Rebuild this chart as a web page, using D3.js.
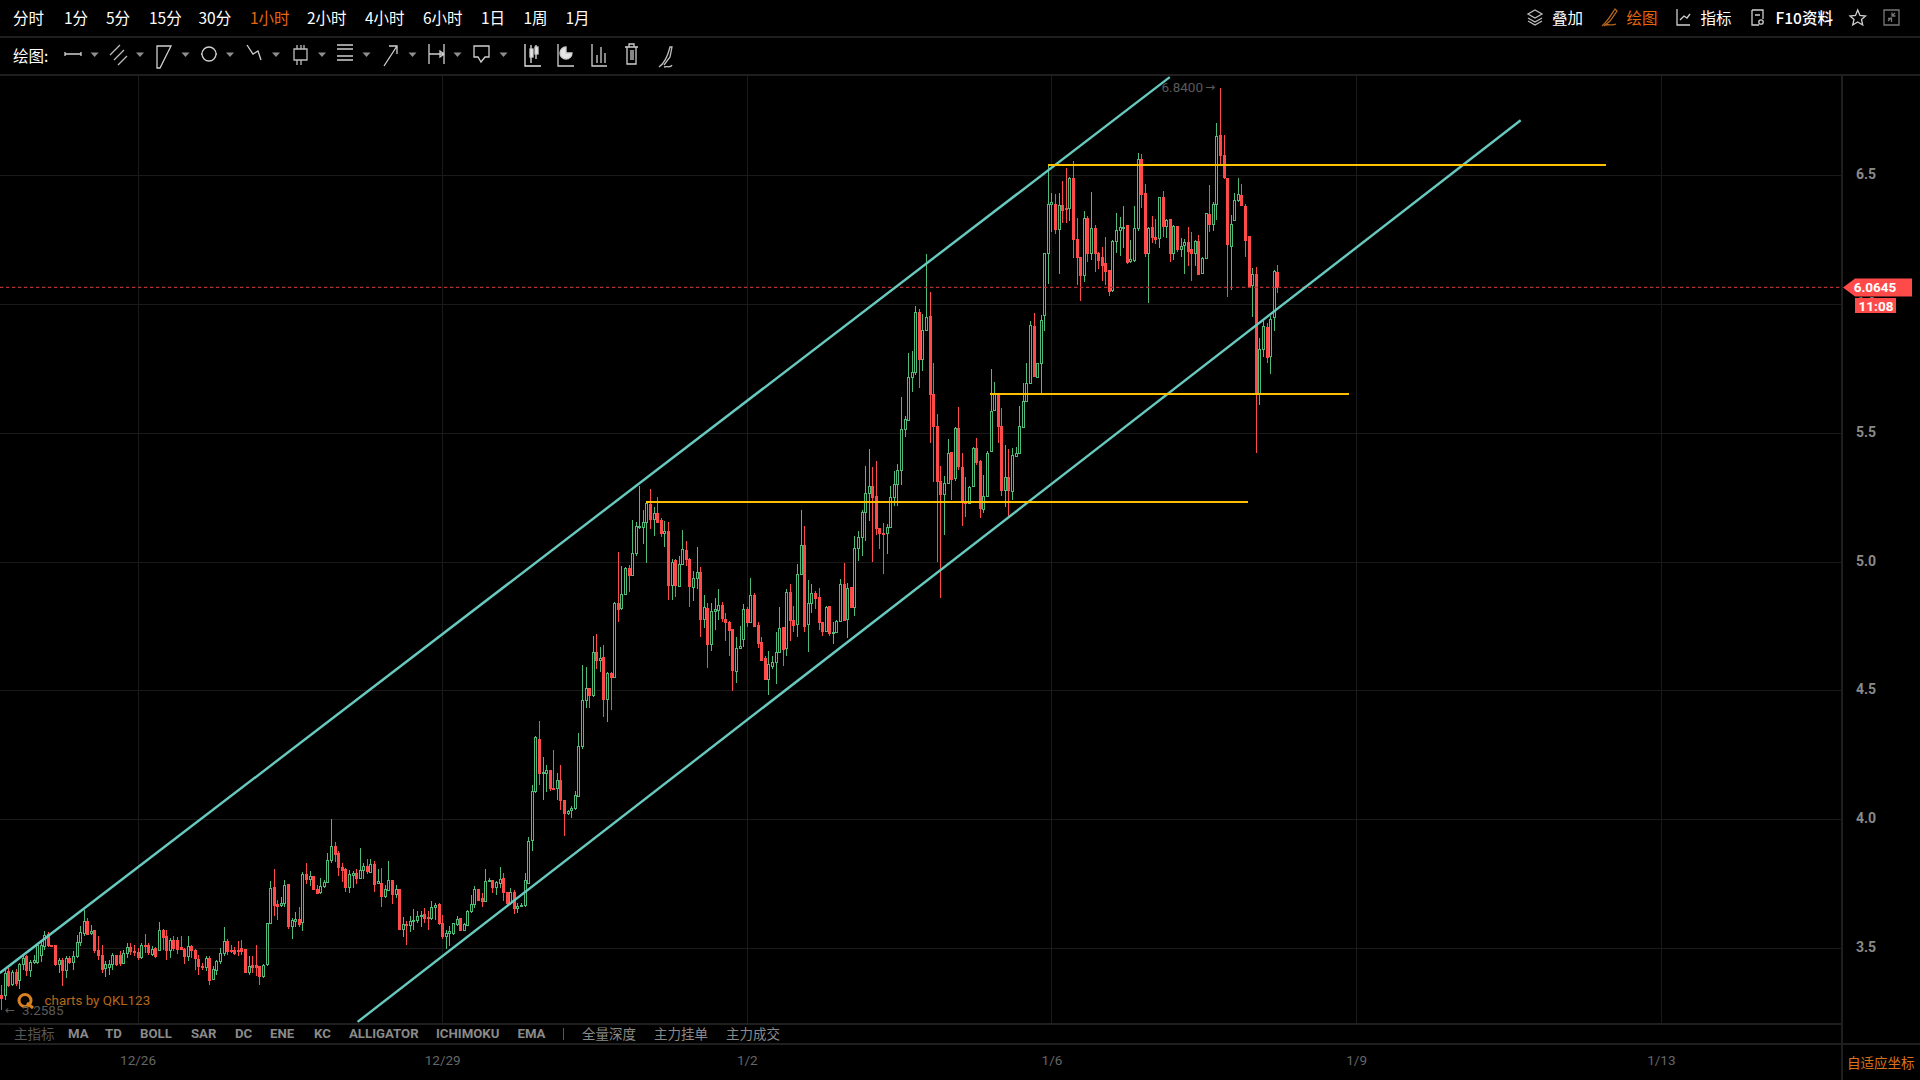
<!DOCTYPE html>
<html><head><meta charset="utf-8">
<style>html,body{margin:0;padding:0;background:#000;overflow:hidden}svg{display:block}</style>
<script src="https://cdnjs.cloudflare.com/ajax/libs/d3/7.8.5/d3.min.js"></script>
</head><body><svg id="c" width="1920" height="1080"></svg>
<script>
// ---------- chart data: hourly candles ----------
const opens=[3.319,3.319,3.410,3.362,3.407,3.374,3.436,3.468,3.416,3.445,
3.445,3.474,3.506,3.555,3.510,3.513,3.436,3.455,3.416,3.461,
3.445,3.470,3.523,3.558,3.606,3.557,3.571,3.494,3.474,3.423,
3.425,3.436,3.472,3.472,3.442,3.481,3.504,3.490,3.486,3.464,
3.513,3.513,3.478,3.500,3.494,3.571,3.545,3.494,3.532,3.530,
3.504,3.496,3.470,3.509,3.491,3.459,3.429,3.426,3.461,3.380,
3.416,3.448,3.481,3.528,3.491,3.494,3.494,3.499,3.496,3.406,
3.434,3.434,3.429,3.390,3.438,3.599,3.736,3.672,3.668,3.674,
3.749,3.584,3.603,3.612,3.601,3.786,3.767,3.780,3.728,3.717,
3.739,3.755,3.841,3.896,3.868,3.816,3.806,3.735,3.782,3.790,
3.771,3.803,3.819,3.797,3.825,3.754,3.752,3.700,3.726,3.764,
3.710,3.730,3.575,3.593,3.590,3.606,3.607,3.623,3.633,3.620,
3.615,3.659,3.672,3.599,3.545,3.557,3.558,3.594,3.615,3.568,
3.590,3.644,3.670,3.730,3.694,3.684,3.759,3.764,3.736,3.754,
3.772,3.718,3.674,3.718,3.654,3.664,3.666,3.754,3.921,4.108,
4.310,4.181,4.179,4.192,4.121,4.121,4.153,4.076,4.024,4.034,
4.043,4.091,4.285,4.463,4.508,4.482,4.650,4.620,4.628,4.466,
4.566,4.554,4.840,4.821,4.875,4.974,4.947,5.035,5.135,5.135,
5.152,5.224,5.165,5.189,5.161,5.113,5.118,4.909,5.005,4.905,
4.990,5.046,5.009,4.903,4.938,4.961,4.778,4.821,4.679,4.810,
4.814,4.831,4.777,4.764,4.738,4.577,4.666,4.699,4.816,4.767,
4.870,4.754,4.687,4.625,4.545,4.594,4.612,4.648,4.745,4.663,
4.884,4.774,4.757,4.951,5.063,4.757,4.839,4.880,4.861,4.764,
4.732,4.826,4.725,4.725,4.770,4.915,4.777,4.903,4.825,5.054,
5.095,5.194,5.267,5.295,5.253,5.132,5.112,5.110,5.135,5.252,
5.302,5.355,5.515,5.551,5.716,5.735,5.968,5.787,5.899,5.953,
5.651,5.528,5.312,5.264,5.306,5.426,5.325,5.519,5.368,5.235,
5.228,5.293,5.441,5.392,5.205,5.254,5.428,5.587,5.650,5.528,
5.277,5.329,5.275,5.412,5.422,5.523,5.622,5.693,5.915,5.716,
5.770,5.956,6.197,6.387,6.387,6.292,6.383,6.373,6.372,6.491,
6.252,6.182,6.111,6.333,6.200,6.294,6.197,6.182,6.159,6.133,
6.053,6.244,6.286,6.298,6.307,6.166,6.172,6.294,6.565,6.433,
6.197,6.298,6.262,6.255,6.414,6.303,6.329,6.200,6.303,6.213,
6.230,6.241,6.213,6.197,6.244,6.120,6.178,6.350,6.311,6.387,
6.655,6.578,6.490,6.227,6.326,6.406,6.423,6.381,6.264,6.075,
6.117,5.656,5.826,5.910,5.797,5.950,6.125];
const closes=[3.304,3.403,3.358,3.407,3.365,3.438,3.461,3.416,3.445,3.455,
3.513,3.513,3.552,3.510,3.509,3.436,3.455,3.416,3.461,3.445,
3.470,3.522,3.561,3.606,3.555,3.565,3.491,3.474,3.419,3.436,
3.436,3.474,3.436,3.442,3.481,3.504,3.490,3.483,3.464,3.513,
3.512,3.483,3.496,3.468,3.571,3.541,3.491,3.532,3.500,3.496,
3.496,3.470,3.509,3.494,3.461,3.429,3.428,3.461,3.377,3.419,
3.448,3.481,3.528,3.490,3.490,3.481,3.492,3.487,3.406,3.432,
3.426,3.425,3.390,3.434,3.597,3.732,3.668,3.664,3.674,3.744,
3.584,3.607,3.612,3.594,3.786,3.768,3.780,3.728,3.712,3.739,
3.755,3.841,3.896,3.865,3.816,3.804,3.735,3.786,3.790,3.770,
3.803,3.819,3.799,3.825,3.750,3.761,3.703,3.728,3.764,3.710,
3.730,3.575,3.593,3.588,3.606,3.610,3.623,3.628,3.615,3.615,
3.659,3.668,3.599,3.545,3.557,3.566,3.597,3.612,3.568,3.594,
3.644,3.670,3.730,3.687,3.683,3.759,3.764,3.736,3.757,3.767,
3.718,3.674,3.718,3.654,3.664,3.666,3.764,3.917,4.108,4.318,
4.179,4.184,4.192,4.121,4.118,4.153,4.076,4.024,4.032,4.043,
4.095,4.285,4.463,4.508,4.482,4.650,4.620,4.624,4.466,4.566,
4.553,4.840,4.818,4.875,4.974,4.947,5.035,5.139,5.139,5.152,
5.228,5.165,5.189,5.155,5.111,5.120,4.909,5.000,4.909,4.992,
5.048,5.009,4.905,4.938,4.961,4.778,4.825,4.679,4.810,4.817,
4.832,4.783,4.764,4.736,4.579,4.666,4.671,4.816,4.767,4.870,
4.751,4.684,4.619,4.545,4.603,4.612,4.648,4.741,4.661,4.884,
4.774,4.755,4.951,5.063,4.751,4.841,4.880,4.857,4.764,4.732,
4.822,4.723,4.728,4.768,4.912,4.774,4.899,4.825,5.054,5.095,
5.194,5.267,5.293,5.250,5.132,5.110,5.106,5.135,5.252,5.302,
5.355,5.515,5.553,5.716,5.735,5.968,5.788,5.899,5.951,5.651,
5.525,5.312,5.261,5.306,5.422,5.321,5.519,5.370,5.235,5.228,
5.290,5.441,5.386,5.209,5.254,5.422,5.583,5.650,5.525,5.277,
5.329,5.277,5.414,5.422,5.528,5.622,5.693,5.917,5.721,5.770,
5.940,6.197,6.387,6.395,6.292,6.383,6.365,6.370,6.490,6.252,
6.181,6.111,6.333,6.200,6.294,6.197,6.172,6.152,6.130,6.049,
6.244,6.286,6.298,6.301,6.164,6.174,6.294,6.565,6.427,6.200,
6.294,6.262,6.253,6.414,6.303,6.326,6.200,6.303,6.213,6.227,
6.240,6.206,6.197,6.244,6.117,6.178,6.352,6.311,6.387,6.651,
6.578,6.494,6.235,6.311,6.406,6.427,6.384,6.250,6.071,6.116,
5.656,5.826,5.914,5.795,5.942,6.128,6.0645];
const highs=[3.358,3.416,3.423,3.416,3.419,3.442,3.474,3.474,3.452,3.474,
3.519,3.526,3.565,3.561,3.513,3.513,3.461,3.461,3.468,3.468,
3.487,3.552,3.584,3.646,3.616,3.590,3.571,3.545,3.513,3.448,
3.455,3.481,3.474,3.487,3.494,3.519,3.519,3.513,3.500,3.519,
3.555,3.519,3.506,3.504,3.601,3.574,3.571,3.539,3.545,3.543,
3.545,3.500,3.545,3.513,3.496,3.474,3.442,3.468,3.468,3.429,
3.455,3.500,3.581,3.535,3.513,3.504,3.526,3.532,3.496,3.468,
3.468,3.513,3.432,3.439,3.599,3.762,3.806,3.687,3.697,3.764,
3.749,3.616,3.638,3.661,3.794,3.829,3.799,3.780,3.745,3.771,
3.764,3.868,3.999,3.910,3.878,3.829,3.810,3.803,3.799,3.806,
3.887,3.829,3.844,3.844,3.839,3.806,3.810,3.745,3.839,3.764,
3.745,3.730,3.620,3.606,3.623,3.651,3.642,3.642,3.655,3.642,
3.681,3.674,3.674,3.629,3.571,3.584,3.599,3.625,3.615,3.597,
3.648,3.706,3.741,3.730,3.713,3.806,3.773,3.764,3.762,3.813,
3.790,3.718,3.732,3.726,3.674,3.674,3.790,3.930,4.134,4.323,
4.383,4.243,4.211,4.192,4.269,4.179,4.211,4.076,4.034,4.050,
4.108,4.334,4.598,4.592,4.508,4.710,4.721,4.669,4.678,4.572,
4.572,4.843,5.039,4.983,4.981,4.986,5.163,5.155,5.293,5.202,
5.230,5.282,5.211,5.250,5.168,5.159,5.152,5.012,5.009,5.020,
5.121,5.081,5.016,4.964,5.055,4.981,4.870,4.840,4.838,4.860,
4.895,4.844,4.800,4.770,4.738,4.706,4.751,4.835,4.822,4.938,
4.880,4.764,4.706,4.635,4.654,4.635,4.728,4.825,4.745,4.893,
4.912,4.828,4.990,5.200,5.138,4.929,4.915,4.886,4.899,4.764,
4.828,4.828,4.764,4.773,4.932,4.994,4.919,4.903,5.099,5.119,
5.200,5.373,5.437,5.368,5.390,5.132,5.151,5.148,5.295,5.351,
5.381,5.639,5.564,5.809,5.819,5.992,5.979,5.961,6.196,6.045,
5.770,5.573,5.373,5.332,5.476,5.426,5.521,5.599,5.422,5.329,
5.295,5.445,5.480,5.396,5.338,5.428,5.747,5.699,5.650,5.596,
5.451,5.437,5.441,5.445,5.606,5.695,5.773,5.935,5.966,5.773,
5.957,6.200,6.539,6.432,6.427,6.432,6.479,6.529,6.494,6.556,
6.333,6.184,6.361,6.342,6.436,6.307,6.201,6.223,6.262,6.133,
6.249,6.355,6.337,6.382,6.307,6.249,6.381,6.587,6.584,6.468,
6.298,6.342,6.329,6.417,6.440,6.329,6.330,6.307,6.304,6.255,
6.253,6.298,6.281,6.249,6.268,6.181,6.355,6.464,6.397,6.704,
6.840,6.655,6.491,6.346,6.430,6.488,6.468,6.387,6.264,6.139,
6.143,5.868,5.933,5.926,5.952,6.133,6.152];
const lows=[3.2585,3.300,3.349,3.354,3.352,3.341,3.416,3.393,3.388,3.436,
3.436,3.445,3.494,3.504,3.506,3.429,3.401,3.354,3.384,3.439,
3.416,3.461,3.506,3.545,3.552,3.552,3.481,3.452,3.403,3.388,
3.397,3.416,3.432,3.429,3.436,3.461,3.474,3.470,3.452,3.457,
3.481,3.474,3.468,3.461,3.491,3.494,3.452,3.461,3.487,3.478,
3.491,3.436,3.448,3.461,3.416,3.397,3.416,3.410,3.358,3.375,
3.397,3.436,3.468,3.474,3.481,3.474,3.468,3.474,3.401,3.397,
3.403,3.390,3.358,3.384,3.429,3.597,3.623,3.607,3.659,3.661,
3.574,3.535,3.581,3.581,3.565,3.749,3.741,3.726,3.708,3.709,
3.732,3.754,3.829,3.832,3.781,3.755,3.719,3.715,3.732,3.748,
3.767,3.767,3.786,3.797,3.719,3.752,3.661,3.694,3.726,3.670,
3.694,3.571,3.543,3.512,3.561,3.568,3.597,3.581,3.597,3.568,
3.610,3.610,3.590,3.535,3.496,3.509,3.552,3.586,3.565,3.565,
3.584,3.635,3.655,3.681,3.659,3.684,3.758,3.713,3.706,3.732,
3.681,3.661,3.668,3.633,3.635,3.661,3.661,3.752,3.876,4.101,
4.134,4.076,4.104,4.108,4.114,4.076,4.037,3.934,4.018,4.005,
4.037,4.088,4.272,4.430,4.430,4.475,4.585,4.572,4.398,4.379,
4.424,4.552,4.765,4.814,4.873,4.882,4.944,5.020,5.126,5.070,
4.996,5.126,5.100,5.155,5.094,5.055,4.851,4.853,4.864,4.903,
4.990,4.983,4.823,4.847,4.892,4.708,4.743,4.589,4.654,4.736,
4.775,4.764,4.693,4.635,4.496,4.528,4.663,4.667,4.745,4.764,
4.745,4.663,4.619,4.545,4.483,4.583,4.525,4.645,4.596,4.632,
4.693,4.725,4.706,4.951,4.725,4.650,4.800,4.816,4.736,4.710,
4.725,4.712,4.680,4.723,4.764,4.774,4.702,4.825,4.790,5.003,
5.022,5.080,5.157,5.000,5.102,5.050,4.951,5.028,5.132,5.215,
5.218,5.297,5.484,5.551,5.660,5.725,5.673,5.740,5.899,5.461,
5.310,5.000,4.857,5.102,5.306,5.241,5.312,5.357,5.138,5.174,
5.222,5.290,5.377,5.170,5.187,5.254,5.426,5.586,5.461,5.254,
5.213,5.177,5.241,5.409,5.422,5.523,5.622,5.693,5.721,5.716,
5.651,5.897,6.077,6.281,6.272,6.117,6.316,6.316,6.324,6.178,
6.075,6.013,6.084,6.165,6.172,6.126,6.135,6.088,6.075,6.030,
6.045,6.200,6.187,6.217,6.156,6.161,6.165,6.285,6.372,6.182,
6.004,6.236,6.233,6.219,6.262,6.255,6.165,6.172,6.204,6.182,
6.117,6.146,6.088,6.146,6.117,6.117,6.175,6.281,6.285,6.326,
6.539,6.485,6.026,6.055,6.324,6.397,6.382,6.184,6.068,5.948,
5.420,5.607,5.795,5.772,5.727,5.894,6.043];
const priceTicks=[3.5,4.0,4.5,5.0,5.5,6.0,6.5];
const dateTickBars=[38,123,208,293,378,463];
const dateTickLabels=["12/26","12/29","1/2","1/6","1/9","1/13"];
const lastPrice=6.0645, countdown="11:08", maxPrice=6.84, minPrice=3.2585;
// drawn trend lines: [bar, price] pairs
const channelUpper=[[-0.4,3.403],[326,6.881]];
const channelLower=[[99.4,3.213],[423.9,6.714]];
const levelLines=[[[292,6.54],[447.6,6.54]],[[275.8,5.652],[375.9,5.652]],[[179.8,5.231],[347.7,5.231]]];
// toolbar text
const periods=["分时","1分","5分","15分","30分","1小时","2小时","4小时","6小时","1日","1周","1月"];
const periodX=[13,64,106,149,198.5,250,307,365,423,481,523.5,565.5];
const activePeriod="1小时";
const indicators=["MA","TD","BOLL","SAR","DC","ENE","KC","ALLIGATOR","ICHIMOKU","EMA"];
const indicatorX=[68,105,140,191,235,270,314,349,436,517.5];
const depthTabs=["全量深度","主力挂单","主力成交"];
const depthTabX=[582,654,726];

// ---------- layout & style ----------
const W=1920,H=1080,plotR=1842,plotT=76,plotB=1023;
const GREEN="#4fbb78",RED="#ff4a4a",TEAL="#68c9bf",GOLD="#ffc000",LINE="#1f1f1f",GRID="#1a1a1a",ORANGE="#e8660f";
const CJK='"Noto Sans CJK SC",sans-serif', DIN='"Liberation Sans Narrow","Roboto",sans-serif';
const N=opens.length;
const x=d3.scaleLinear().domain([0,N-1]).range([1.3,1277.3]);
const y=d3.scaleLinear().domain([3.5,6.5]).range([948,175.3]);
const svg=d3.select("#c");
svg.append("rect").attr("width",W).attr("height",H).attr("fill","#000");
svg.append("defs").append("clipPath").attr("id","plot").append("rect").attr("x",0).attr("y",plotT).attr("width",plotR).attr("height",plotB-plotT);

// grid + axes via d3 axes
const gridH=d3.axisRight(y).tickValues(priceTicks).tickSize(plotR).tickFormat("");
svg.append("g").call(gridH).call(g=>{g.select(".domain").remove();g.selectAll("line").attr("stroke",GRID).attr("shape-rendering","crispEdges");});
const gridV=d3.axisBottom(x).tickValues(dateTickBars).tickSize(plotB-plotT).tickFormat("");
svg.append("g").attr("transform",`translate(0,${plotT})`).call(gridV).call(g=>{g.select(".domain").remove();g.selectAll("line").attr("stroke",GRID).attr("shape-rendering","crispEdges");});
const yAxis=d3.axisRight(y).tickValues(priceTicks).tickSize(0).tickPadding(0).tickFormat(d3.format(".1f"));
svg.append("g").attr("transform","translate(1856,-1)").call(yAxis).call(g=>{g.select(".domain").remove();g.selectAll("text").attr("fill","#8a8a8a").attr("font-family",DIN).attr("font-size",14).attr("font-weight",700);});
const xAxis=d3.axisBottom(x).tickValues(dateTickBars).tickSize(0).tickPadding(0).tickFormat((d,i)=>dateTickLabels[i]);
svg.append("g").attr("transform","translate(0,1055)").call(xAxis).call(g=>{g.select(".domain").remove();g.selectAll("text").attr("fill","#666").attr("font-family",DIN).attr("font-size",13.5);});

// candles
const plot=svg.append("g").attr("clip-path","url(#plot)");
const candles=d3.range(N).map(i=>({i,o:opens[i],h:highs[i],l:lows[i],c:closes[i]}));
const cg=plot.append("g").attr("shape-rendering","crispEdges");
const px=d=>Math.round(x(d.i));
const col=d=>d.c>=d.o?GREEN:RED;
const bTop=d=>Math.round(y(Math.max(d.o,d.c)));
const bBot=d=>Math.max(bTop(d)+1,Math.round(y(Math.min(d.o,d.c))));
cg.selectAll(".w").data(candles).join("rect").attr("x",d=>px(d)).attr("width",1)
  .attr("y",d=>Math.round(y(d.h))).attr("height",d=>Math.max(1,Math.round(y(d.l))-Math.round(y(d.h)))).attr("fill",col);
cg.selectAll(".b").data(candles).join("rect").attr("x",d=>px(d)-1).attr("width",3)
  .attr("y",bTop).attr("height",d=>bBot(d)-bTop(d)+1).attr("fill",col);
cg.selectAll(".h").data(candles.filter(d=>d.c>=d.o&&bBot(d)-bTop(d)>1)).join("rect").attr("x",d=>px(d)).attr("width",1)
  .attr("y",d=>bTop(d)+1).attr("height",d=>bBot(d)-bTop(d)-1).attr("fill","#000");

// last price line
plot.append("line").attr("x1",0).attr("x2",plotR).attr("y1",y(lastPrice)).attr("y2",y(lastPrice))
  .attr("stroke","#b23030").attr("stroke-width",1.2).attr("stroke-dasharray","3.4,2.6");

// trend lines
const ln=d3.line().x(d=>x(d[0])).y(d=>y(d[1]));
[channelUpper,channelLower].forEach(p=>plot.append("path").attr("d",ln(p)).attr("fill","none").attr("stroke",TEAL).attr("stroke-width",2.4));
levelLines.forEach(p=>plot.append("path").attr("d",ln(p)).attr("fill","none").attr("stroke",GOLD).attr("stroke-width",2).attr("shape-rendering","crispEdges"));

// frames
const frame=(a,b,c,d)=>svg.append("line").attr("x1",a).attr("y1",b).attr("x2",c).attr("y2",d).attr("stroke",LINE).attr("stroke-width",2).attr("shape-rendering","crispEdges");
frame(0,37,W,37);frame(0,75,W,75);frame(0,1024,plotR,1024);frame(0,1044,W,1044);frame(plotR,75,plotR,H);

// helpers
const txt=(t,xp,yp,o={})=>svg.append("text").text(t).attr("x",xp).attr("y",yp).attr("dominant-baseline","central")
  .attr("fill",o.fill||"#fff").attr("font-family",o.font||CJK).attr("font-size",o.size||15).attr("font-weight",o.weight||400).attr("text-anchor",o.anchor||"start");

// period row
periods.forEach((p,i)=>{txt(p,periodX[i],17,{size:15.5,fill:p===activePeriod?ORANGE:"#fff"});});
txt("绘图:",13,55,{size:15.5});

// toolbar icons (decorative)
const ic=svg.append("g").attr("fill","none").attr("stroke","#cfcfcf").attr("stroke-width",1.3);
const rowIcons=ic.append("g").attr("transform","translate(0,-3)");
const topIcons=ic.append("g");
const draw=(g,d,o={})=>g.append("path").attr("d",d).attr("stroke",o.s||"#cfcfcf").attr("fill",o.f||"none");
const P=(d,o)=>draw(rowIcons,d,o), T=(d,o)=>draw(topIcons,d,o);
[90.6,136,181.5,226,272,318,362.5,408.5,453.5,499.5].forEach(a=>svg.append("path").attr("d",`M${a},52.5h8l-4,4.5z`).attr("fill","#8f8f8f"));
P("M65,57H81M65,55v4M81,55v4");
P("M110,58L120,48M114,63L124,53M118,68L127,59",{s:"#bdbdbd"});
P("M157,49H171L160,71H157Z");
rowIcons.append("circle").attr("cx",209).attr("cy",57).attr("r",7);P("M202,57h-1M217,57h-1");
P("M247,48L253,57L258,54L261,63");
P("M294,52h13v11h-13zM297,48v4M301,48v4M304,48v4M297,63v5M301,63v5",{s:"#bdbdbd"});
P("M337,48H353M337,52H353M337,59H353M337,63H353");
P("M384,69L397,49M389,49H397V57");
P("M429,47V67M444,47V67M429,57H444M444,57l-4,-3v6z");
P("M474,49H489V60H485L481,65L478,60H474Z");
P("M525,47V69H541M531,48V66M536,48V62",{s:"#e6e6e6"});rowIcons.append("rect").attr("x",530).attr("y",52).attr("width",3).attr("height",8).attr("fill","#e6e6e6");rowIcons.append("rect").attr("x",535).attr("y",50).attr("width",3).attr("height",7).attr("fill","#e6e6e6");
P("M558,47V69H574");rowIcons.append("path").attr("d","M566,50A6,6 0 1 0 572,56H566Z").attr("fill","#e6e6e6");
P("M592,47V69H607M597,66V58M601,66V50M605,66V56");
P("M625,50H638M629,50V47H634V50M627,50V67H636V50M631,53V63M633,53V63");
P("M659,70C665,66 668,58 670,50L672,50L670,60L664,68M664,70C668,69 671,71 672,68",{s:"#bdbdbd"});
// right-top icons
T("M1535,10L1542,14L1535,18L1528,14ZM1528,18L1535,22L1542,18M1528,21L1535,25L1542,21",{s:"#bdbdbd"});
T("M1602,26C1607,22 1611,15 1615,9L1617,11L1610,21L1604,26M1605,25C1610,24 1612,26 1616,24",{s:"#b5651d"});
T("M1677,9V25H1690M1680,20L1684,16L1687,18L1690,14");
T("M1752,10H1763V19M1752,10V25H1759M1755,15H1760");topIcons.append("circle").attr("cx",1761).attr("cy",22).attr("r",2.2);
T("M1857.7,10L1860,15.5L1865.5,16L1861.5,19.5L1862.7,25L1857.7,22L1852.7,25L1854,19.5L1850,16L1855.5,15.5Z");
T("M1884,10H1899V25H1884Z",{s:"#777"});T("M1888,21L1891.5,17.5M1888,18.5H1891.5V22M1895,13L1892,16M1892,12.5V16H1895.5",{s:"#777"});

txt("叠加",1552,17,{size:15.5});
txt("绘图",1626.5,17,{size:15.5,fill:ORANGE});
txt("指标",1700.5,17,{size:15.5});
txt("F10资料",1775.5,16.5,{size:15.5,weight:500});

// indicator row
txt("主指标",14,1033,{size:13.5,fill:"#585858"});
indicators.forEach((t,i)=>txt(t,indicatorX[i],1033.5,{font:DIN,size:13.2,fill:"#8a8a8a",weight:700}));
svg.append("line").attr("x1",563.5).attr("x2",563.5).attr("y1",1028).attr("y2",1040).attr("stroke","#555");
depthTabs.forEach((t,i)=>txt(t,depthTabX[i],1033,{size:13.5,fill:"#8a8a8a"}));
txt("自适应坐标",1847,1062,{size:13.5,fill:"#d9731a"});

// logo + credit
svg.append("circle").attr("cx",25).attr("cy",1000.5).attr("r",6).attr("fill","none").attr("stroke","#d9821f").attr("stroke-width",3);
svg.append("path").attr("d","M27,1003L33,1008").attr("stroke","#d9821f").attr("stroke-width",3);
txt("charts by QKL123",44.5,1000.5,{font:DIN,size:13.4,fill:"#b5691a"});

// extreme labels
txt(d3.format(".4f")(maxPrice),1161.5,y(maxPrice)-0.5,{font:DIN,size:13.5,fill:"#5a5a5a"});
txt("→",1205,y(maxPrice)-0.5,{font:'"DejaVu Sans"',size:12,fill:"#5a5a5a"});
txt("←",5,y(minPrice)-0.5,{font:'"DejaVu Sans"',size:12,fill:"#5a5a5a"});
txt(d3.format(".4f")(minPrice),22,y(minPrice)-0.5,{font:DIN,size:13.5,fill:"#5a5a5a"});

// last-price tag
const ty=y(lastPrice);
svg.append("path").attr("d",d3.line()([[1843,ty],[1855,ty-9],[1912,ty-9],[1912,ty+9],[1855,ty+9]])+"Z").attr("fill",RED);
txt(d3.format(".4f")(lastPrice),1875,ty,{font:DIN,size:13.5,weight:700,anchor:"middle",fill:"#fff"});
svg.append("rect").attr("x",1855).attr("y",298).attr("width",41).attr("height",15).attr("fill",RED);
txt(countdown,1876,305.5,{font:DIN,size:13.5,weight:700,anchor:"middle",fill:"#fff"});
</script></body></html>
